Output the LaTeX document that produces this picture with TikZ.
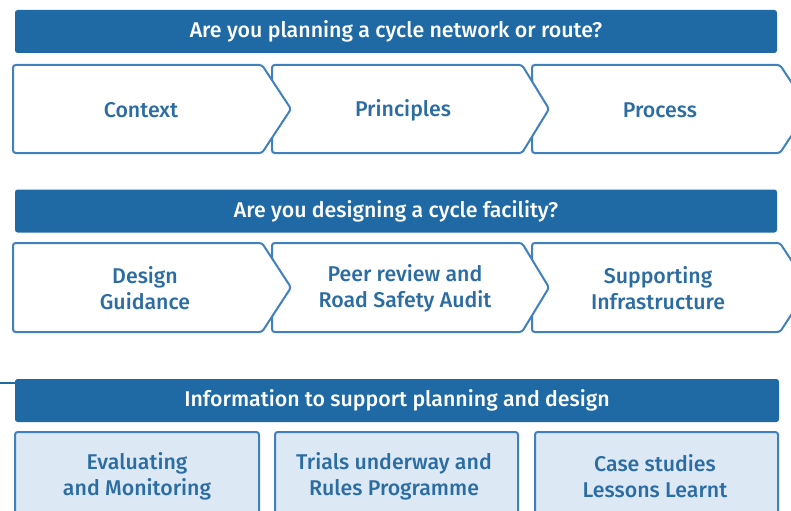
\documentclass[tikz,border=0pt]{standalone}
\usepackage{fontspec}
\setmainfont{Fira Sans Medium}
\definecolor{bannerblue}{HTML}{1F6AA5}
\definecolor{lineblue}{HTML}{3F80BD}
\definecolor{textblue}{HTML}{2B6CA3}
\definecolor{boxfill}{HTML}{DCE9F5}
\tikzset{
  banner/.style={fill=bannerblue, rounded corners=2pt, text=white, inner sep=0pt,
    minimum width=571.5pt, minimum height=32.25pt, font=\fontsize{16}{19}\selectfont},
  stage/.style={draw=lineblue, line width=1.5pt, fill=white, rounded corners=2pt},
  stagetext/.style={text=textblue, align=center, font=\fontsize{16}{19.5}\selectfont},
  infobox/.style={draw=lineblue, line width=1.5pt, fill=boxfill, rounded corners=2pt},
}
\begin{document}
\begin{tikzpicture}[x=0.75pt,y=0.75pt,yscale=-1,xscale=1]
\useasboundingbox (0,0) rectangle (791,510);
\clip (0,0) rectangle (791,510);

% Banner: planning
\node[banner] (planq) at (396,31.5) {Are you planning a cycle network or route?};

% Chevrons, drawn right to left so each tip lies over the next one
\draw[stage] (532,65) -- (780,65) -- (809,109) -- (780,153) -- (532,153) -- cycle ;
\draw[stage] (272,65) -- (522,65) -- (549,109) -- (522,153) -- (272,153) -- cycle ;
\draw[stage] (13,65) -- (262,65) -- (291,109) -- (262,153) -- (13,153) -- cycle ;

% Text Node
\node[stagetext] (context) at (141,110) {Context};
% Text Node
\node[stagetext] (principles) at (403,110) {Principles};
% Text Node
\node[stagetext] (process) at (660,110) {Process};

% Banner: designing
\node[banner] (designq) at (396,211) {Are you designing a cycle facility?};

\draw[stage] (532,243) -- (780,243) -- (809,287.5) -- (780,332) -- (532,332) -- cycle ;
\draw[stage] (272,243) -- (522,243) -- (549,287.5) -- (522,332) -- (272,332) -- cycle ;
\draw[stage] (13,243) -- (262,243) -- (291,287.5) -- (262,332) -- (13,332) -- cycle ;

% Text Node
\node[stagetext] (guidance) at (145,288) {Design\\Guidance};
% Text Node
\node[stagetext] (review) at (405,288) {Peer review and\\Road Safety Audit};
% Text Node
\node[stagetext] (infra) at (658,288) {Supporting\\Infrastructure};

% Stub line at left
\coordinate (stub) at (0,383);
% Banner: information
\node[banner, minimum width=573pt] (infoq) at (397,400.5) {Information to support planning and design};
\draw[bannerblue, line width=2pt] (stub) -- (infoq.west |- stub) ;

% Information boxes
\draw[infobox] (15,432) rectangle (259,520) ;
\draw[infobox] (275,432) rectangle (518,520) ;
\draw[infobox] (535,432) rectangle (778,520) ;

% Text Node
\node[stagetext] (evaluating) at (137,476) {Evaluating\\and Monitoring};
% Text Node
\node[stagetext] (trials) at (394,476) {Trials underway and\\Rules Programme};
% Text Node
\node[stagetext] (cases) at (655,476) {Case studies\\Lessons Learnt};

\end{tikzpicture}
\end{document}
